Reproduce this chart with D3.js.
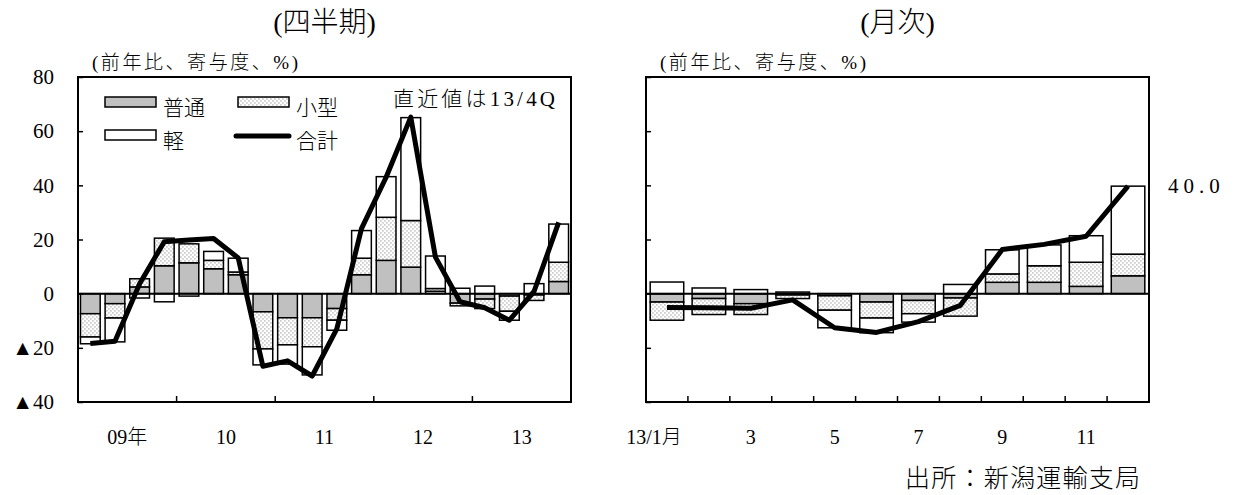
<!DOCTYPE html>
<html>
<head>
<meta charset="utf-8">
<script src="https://cdn.jsdelivr.net/npm/d3@7"></script>
<style>
  body { margin: 0; background: #fff; }
  svg text { font-family: "Liberation Serif", "Noto Sans CJK JP", serif; font-weight: 300; fill: #000; }
</style>
</head>
<body>
<svg id="chart" width="1237" height="495"></svg>
<script>
// 四半期データ（09年1Q～13年4Q）
var quarters = ["09Q1","09Q2","09Q3","09Q4","10Q1","10Q2","10Q3","10Q4","11Q1","11Q2","11Q3","11Q4",
                "12Q1","12Q2","12Q3","12Q4","13Q1","13Q2","13Q3","13Q4"];
var yearLabels = ["09年", "10", "11", "12", "13"];
var qFutsu  = [-7.4, -3.7, 2.5, 10.3, 11.4, 9.2, 7.0, -6.7, -8.9, -8.9, -5.5, 7.0, 12.3, 9.8, 0.9, -3.5, -2.0, -0.9, -0.5, 4.5];
var qKogata = [-8.6, -5.3, 3.0, 10.2, 7.0, 3.1, 1.0, -13.7, -10.0, -10.7, -4.3, 6.1, 15.9, 17.2, 1.0, -1.0, -3.5, -5.6, -2.0, 7.1];
var qKei    = [-2.5, -8.8, -1.6, -3.0, -0.9, 3.3, 5.1, -5.9, -7.1, -10.4, -3.7, 10.2, 15.0, 38.0, 12.0, 2.0, 2.8, -3.3, 3.7, 14.1];
var qTotal  = [-18.4, -17.6, 3.7, 19.2, 19.8, 20.4, 13.2, -26.8, -24.8, -30.4, -13.0, 24.0, 43.0, 65.2, 13.5, -3.0, -5.2, -9.8, 0.8, 26.3];

// 月次データ（13年1月～12月）
var months = ["1","2","3","4","5","6","7","8","9","10","11","12"];
var monthLabels = ["13/1月", "", "3", "", "5", "", "7", "", "9", "", "11", ""];
var mFutsu  = [-3.1, -1.8, -3.7, -0.5, -0.8, -3.1, -2.5, -1.6, 4.2, 4.2, 2.7, 6.6];
var mKogata = [-6.7, -5.9, -4.0, -1.3, -5.3, -5.9, -4.9, -6.7, 3.1, 6.1, 8.9, 8.0];
var mKei    = [4.3, 2.1, 1.5, 0.6, -6.5, -5.4, -3.1, 3.4, 8.9, 7.7, 9.8, 25.1];
var mTotal  = [-5.1, -5.2, -5.4, -2.3, -12.6, -14.3, -10.3, -4.3, 16.3, 18.2, 21.2, 39.7];
var mLatestLabel = "40.0";

var yTicks = [80, 60, 40, 20, 0, -20, -40];
var legendItems = [
  { key: "futsu", label: "普通" },
  { key: "kogata", label: "小型" },
  { key: "kei", label: "軽" },
  { key: "total", label: "合計" }
];

var FONT = "'Liberation Serif', 'Noto Sans CJK JP', serif";
var svg = d3.select("#chart");

// 小型の網掛け
var pat = svg.append("defs").append("pattern")
  .attr("id", "dots").attr("width", 4).attr("height", 4)
  .attr("patternUnits", "userSpaceOnUse");
pat.append("rect").attr("width", 4).attr("height", 4).attr("fill", "#fff");
pat.append("rect").attr("x", 0.5).attr("y", 0.5).attr("width", 0.9).attr("height", 0.9).attr("fill", "#444");
pat.append("rect").attr("x", 2.5).attr("y", 2.5).attr("width", 0.9).attr("height", 0.9).attr("fill", "#444");

var fills = { futsu: "#c0c0c0", kogata: "url(#dots)", kei: "#fff" };

var y = d3.scaleLinear().domain([-40, 80]).range([402, 77]);

function drawPanel(opt) {
  var x = d3.scaleBand()
    .domain(opt.cats)
    .range([opt.x0, opt.x1])
    .paddingInner(0.2)
    .paddingOuter(0.1);
  var step = x.step();

  var rows = opt.cats.map((c, i) => ({
    cat: c, futsu: opt.futsu[i], kogata: opt.kogata[i], kei: opt.kei[i]
  }));
  var stack = d3.stack()
    .keys(["futsu", "kogata", "kei"])
    .offset(d3.stackOffsetDiverging)(rows);

  var g = svg.append("g");

  // 積み上げ棒
  g.selectAll("g.layer")
    .data(stack)
    .enter()
    .append("g")
    .attr("fill", d => fills[d.key])
    .selectAll("rect")
    .data(d => d)
    .enter()
    .append("rect")
    .attr("x", d => x(d.data.cat))
    .attr("width", x.bandwidth())
    .attr("y", d => y(Math.max(d[0], d[1])))
    .attr("height", d => Math.abs(y(d[0]) - y(d[1])))
    .attr("stroke", "#000")
    .attr("stroke-width", 1.5);

  // ゼロ線
  g.append("line")
    .attr("x1", opt.x0).attr("x2", opt.x1)
    .attr("y1", y(0)).attr("y2", y(0))
    .attr("stroke", "#000").attr("stroke-width", 2);

  // 合計
  g.append("path")
    .datum(opt.total)
    .attr("fill", "none")
    .attr("stroke", "#000")
    .attr("stroke-width", 5)
    .attr("stroke-linejoin", "round")
    .attr("d", d3.line()
      .x((d, i) => x(opt.cats[i]) + x.bandwidth() / 2)
      .y(d => y(d)));

  // 枠
  g.append("rect")
    .attr("x", opt.x0).attr("y", y(80))
    .attr("width", opt.x1 - opt.x0).attr("height", y(-40) - y(80))
    .attr("fill", "none").attr("stroke", "#000").attr("stroke-width", 2);

  // 縦軸
  var axis = d3.axisLeft(y)
    .tickValues(yTicks)
    .tickSize(-5)
    .tickPadding(24)
    .tickFormat(d => opt.labels ? (d < 0 ? "▲" + (-d) : d) : "");
  var ag = g.append("g")
    .attr("transform", "translate(" + opt.x0 + ",0)")
    .call(axis);
  ag.select(".domain").remove();
  ag.attr("font-family", null).attr("font-size", null);
  ag.selectAll(".tick line").attr("stroke", "#000").attr("stroke-width", 1.5);
  ag.selectAll("text")
    .style("font-family", FONT)
    .style("font-size", "21px")
    .attr("fill", "#000");

  // 横軸目盛（区切り）
  g.selectAll("line.xtick")
    .data(opt.boundaries)
    .enter()
    .append("line")
    .attr("x1", i => opt.x0 + i * step)
    .attr("x2", i => opt.x0 + i * step)
    .attr("y1", y(-40))
    .attr("y2", y(-40) - 6)
    .attr("stroke", "#000")
    .attr("stroke-width", 1.5);

  g.selectAll("text.xlab")
    .data(opt.xlabels)
    .enter()
    .append("text")
    .attr("x", d => opt.x0 + d.pos * step + (d.dx || 0))
    .attr("y", 444)
    .attr("text-anchor", "middle")
    .attr("font-size", 20)
    .text(d => d.text);

  // 見出し
  var cx = (opt.x0 + opt.x1) / 2;
  g.append("text")
    .attr("x", cx).attr("y", 32)
    .attr("text-anchor", "middle")
    .attr("font-size", 28)
    .text(opt.title);
  g.append("text")
    .attr("x", opt.x0 + 14).attr("y", 69)
    .attr("font-size", 19)
    .attr("textLength", 206)
    .attr("lengthAdjust", "spacing")
    .text("(前年比、寄与度、%)");

  return { x: x, g: g };
}

var left = drawPanel({
  cats: quarters, futsu: qFutsu, kogata: qKogata, kei: qKei, total: qTotal,
  x0: 78, x1: 571, labels: true, title: "(四半期)",
  boundaries: [4, 8, 12, 16],
  xlabels: yearLabels.map((t, i) => ({ text: t, pos: i * 4 + 2 }))
});

var right = drawPanel({
  cats: months, futsu: mFutsu, kogata: mKogata, kei: mKei, total: mTotal,
  x0: 646, x1: 1149, labels: false, title: "(月次)",
  boundaries: d3.range(1, 12),
  xlabels: monthLabels
    .map((t, i) => ({ text: t, pos: i + 0.5, dx: i === 0 ? -13 : 0 }))
    .filter(d => d.text !== "")
});

// 凡例
var lg = left.g.append("g");
var legendPos = [
  { x: 105, y: 97 }, { x: 238, y: 97 }, { x: 105, y: 130 }, { x: 238, y: 130 }
];
legendItems.forEach((it, i) => {
  var p = legendPos[i];
  if (it.key === "total") {
    lg.append("line")
      .attr("x1", p.x - 2).attr("x2", p.x + 51)
      .attr("y1", p.y + 6).attr("y2", p.y + 6)
      .attr("stroke", "#000").attr("stroke-width", 5)
      .attr("stroke-linecap", "round");
  } else {
    lg.append("rect")
      .attr("x", p.x).attr("y", p.y)
      .attr("width", 51).attr("height", 10)
      .attr("fill", fills[it.key])
      .attr("stroke", "#000").attr("stroke-width", 1.5);
  }
  lg.append("text")
    .attr("x", p.x + 58).attr("y", p.y + 18)
    .attr("font-size", 21)
    .text(it.label);
});

left.g.append("text")
  .attr("x", 393).attr("y", 106)
  .attr("font-size", 21)
  .attr("textLength", 162)
  .attr("lengthAdjust", "spacing")
  .text("直近値は13/4Q");

// 直近値
right.g.append("text")
  .attr("x", 1168).attr("y", y(mTotal[11]) + 7)
  .attr("font-size", 21)
  .attr("letter-spacing", 5)
  .text(mLatestLabel);

svg.append("text")
  .attr("x", 905).attr("y", 487)
  .attr("font-size", 25)
  .attr("textLength", 235)
  .attr("lengthAdjust", "spacing")
  .text("出所：新潟運輸支局");
</script>
</body>
</html>
